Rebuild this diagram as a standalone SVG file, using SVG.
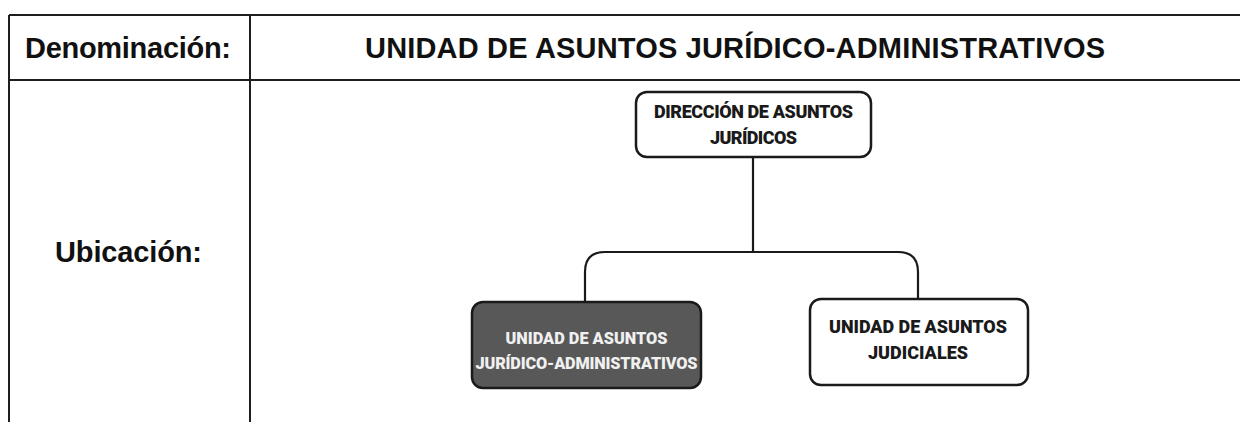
<svg xmlns="http://www.w3.org/2000/svg" width="1240" height="422" viewBox="0 0 1240 422">
<style>
.tbl{stroke:#1e1e1e;stroke-width:2;fill:none}
.hdr{font-family:"Liberation Sans",Arial,sans-serif;font-weight:bold;font-size:29px;fill:#111}
.box{fill:#fff;stroke:#1a1a1a;stroke-width:2.5}
.dark{fill:#585858;stroke:#1a1a1a;stroke-width:2.5}
.nt{font-family:Roboto,"Liberation Sans",sans-serif;font-weight:900;font-size:18px;fill:#1a1a1a;text-anchor:middle}
.nw{fill:#f0f0f0;font-size:16.3px}
.con{stroke:#1a1a1a;stroke-width:2.2;fill:none}
</style>
<rect width="1240" height="422" fill="#fff"/>
<g id="table">
<line class="tbl" x1="9" y1="15" x2="1240" y2="15"/>
<line class="tbl" x1="9" y1="80" x2="1240" y2="80"/>
<line class="tbl" x1="9" y1="15" x2="9" y2="422"/>
<line class="tbl" x1="250" y1="15" x2="250" y2="422"/>
<text class="hdr" x="25" y="58" textLength="206">Denominación:</text>
<text class="hdr" x="365" y="58" textLength="740">UNIDAD DE ASUNTOS JURÍDICO-ADMINISTRATIVOS</text>
<text class="hdr" x="55" y="262" textLength="147">Ubicación:</text>
</g>
<g id="connectors">
<path class="con" d="M753 157 V252"/>
<path class="con" d="M585 302 V272 Q585 252 605 252 H898 Q918 252 918 272 V299"/>
</g>
<g id="node-direccion">
<rect class="box" x="636" y="92" width="235" height="65" rx="11"/>
<text class="nt" x="753.5" y="118" textLength="199">DIRECCIÓN DE ASUNTOS</text>
<text class="nt" x="753.5" y="144" textLength="87">JURÍDICOS</text>
</g>
<g id="node-juridico-admin">
<rect class="dark" x="472" y="302" width="229" height="86" rx="11"/>
<text class="nt nw" x="586.5" y="344" textLength="162">UNIDAD DE ASUNTOS</text>
<text class="nt nw" x="586.5" y="369" textLength="222">JURÍDICO-ADMINISTRATIVOS</text>
</g>
<g id="node-judiciales">
<rect class="box" x="810" y="299" width="218" height="86" rx="11"/>
<text class="nt" x="918" y="333" textLength="178">UNIDAD DE ASUNTOS</text>
<text class="nt" x="918" y="359" textLength="100">JUDICIALES</text>
</g>
</svg>
